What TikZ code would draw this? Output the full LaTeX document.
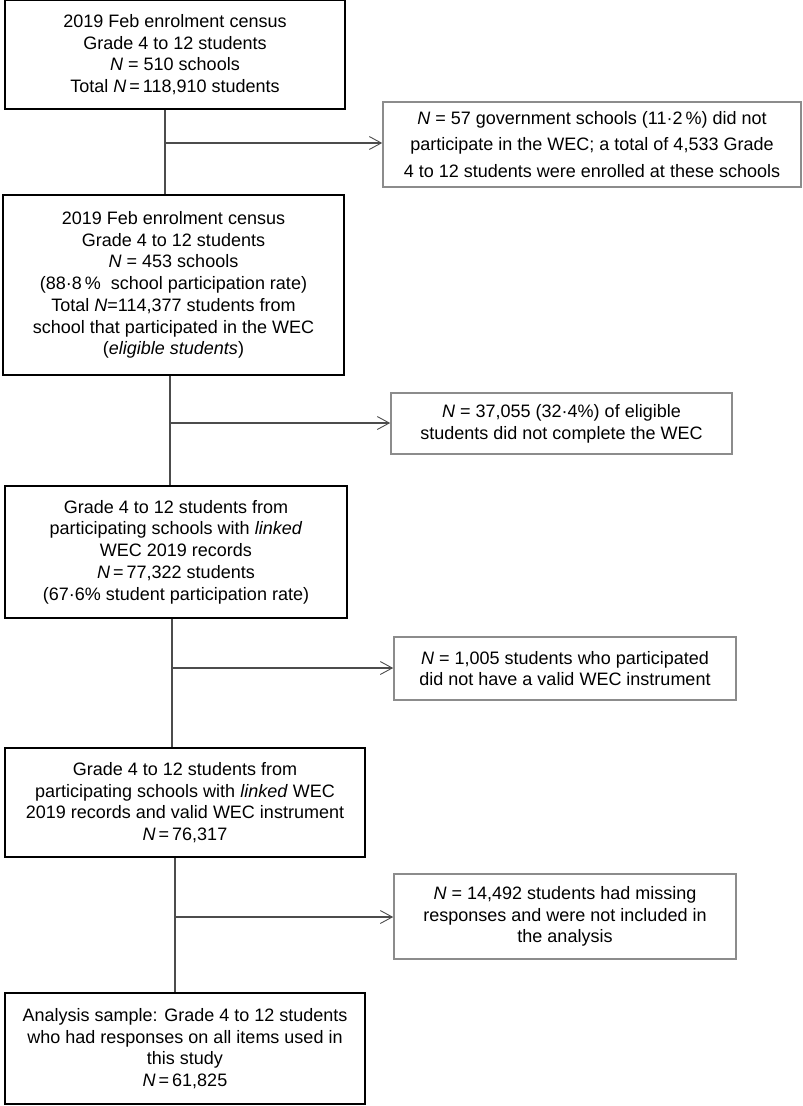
\documentclass[tikz,border=0pt]{standalone}
\usepackage{fontspec}
\setmainfont{Liberation Sans}
\usetikzlibrary{positioning}
\usetikzlibrary{arrows.meta}

\begin{document}
\begin{tikzpicture}[x=1pt,y=-1pt,
  mainbox/.style={draw=black, line width=1.6pt, align=center, inner sep=0pt, font=\fontsize{18}{21.7}\selectfont},
  sidebox/.style={draw=black!45, line width=1.6pt, align=center, inner sep=0pt, font=\fontsize{18}{21.7}\selectfont},
  link/.style={draw=black!70, line width=1.1pt},
  flow/.style={link, -{Straight Barb[length=12pt,width=13pt,line width=0.9pt]}}]
\useasboundingbox (0,0) rectangle (803,1106);
% main column
\node[mainbox, minimum width=340pt, minimum height=109pt] (census) at (175,54.5)
  {2019 Feb enrolment census\\ Grade 4 to 12 students\\ \textit{N} = 510 schools\\ Total \textit{N}\,=\,118,910 students};
\node[mainbox, minimum width=341pt, minimum height=180pt] (schools) at (173.5,285)
  {2019 Feb enrolment census\\ Grade 4 to 12 students\\ \textit{N} = 453 schools\\ (88·8\,\%\ \ school participation rate)\\ Total \textit{N}=114,377 students from\\ school that participated in the WEC\\ (\textit{eligible students})};
\node[mainbox, minimum width=342pt, minimum height=132pt] (linked) at (176,552)
  {Grade 4 to 12 students from\\ participating schools with \textit{linked}\\ WEC 2019 records\\ \textit{N}\,=\,77,322 students\\ (67·6\% student participation rate)};
\node[mainbox, minimum width=360pt, minimum height=109pt] (valid) at (185,802.5)
  {Grade 4 to 12 students from\\ participating schools with \textit{linked} WEC\\ 2019 records and valid WEC instrument\\ \textit{N}\,=\,76,317};
\node[mainbox, minimum width=360pt, minimum height=111pt] (sample) at (185,1048.5)
  {Analysis sample: Grade 4 to 12 students\\ who had responses on all items used in\\ this study\\ \textit{N}\,=\,61,825};
% exclusions
\node[sidebox, minimum width=418pt, minimum height=85pt, font=\fontsize{18}{26.5}\selectfont] (nogov) at (592,144.5)
  {\textit{N} = 57 government schools (11·2\,\%) did not\\ participate in the WEC; a total of 4,533 Grade\\ 4 to 12 students were enrolled at these schools};
\node[sidebox, minimum width=341pt, minimum height=61pt] (noWEC) at (561.5,423.5)
  {\textit{N} = 37,055 (32·4\%) of eligible\\ students did not complete the WEC};
\node[sidebox, minimum width=342pt, minimum height=63pt] (noinst) at (565,668.5)
  {\textit{N} = 1,005 students who participated\\ did not have a valid WEC instrument};
\node[sidebox, minimum width=342pt, minimum height=85pt] (missing) at (565,916.5)
  {\textit{N} = 14,492 students had missing\\ responses and were not included in\\ the analysis};
% branch points
\coordinate (j1) at (165,143);
\coordinate (j2) at (170,423);
\coordinate (j3) at (172,668);
\coordinate (j4) at (175,917);
\draw[link] (census.south -| j1) -- (schools.north -| j1);
\draw[link] (schools.south -| j2) -- (linked.north -| j2);
\draw[link] (linked.south -| j3) -- (valid.north -| j3);
\draw[link] (valid.south -| j4) -- (sample.north -| j4);
\draw[flow] (j1) -- (nogov.west |- j1);
\draw[flow] (j2) -- (noWEC.west |- j2);
\draw[flow] (j3) -- (noinst.west |- j3);
\draw[flow] (j4) -- (missing.west |- j4);
\end{tikzpicture}
\end{document}
